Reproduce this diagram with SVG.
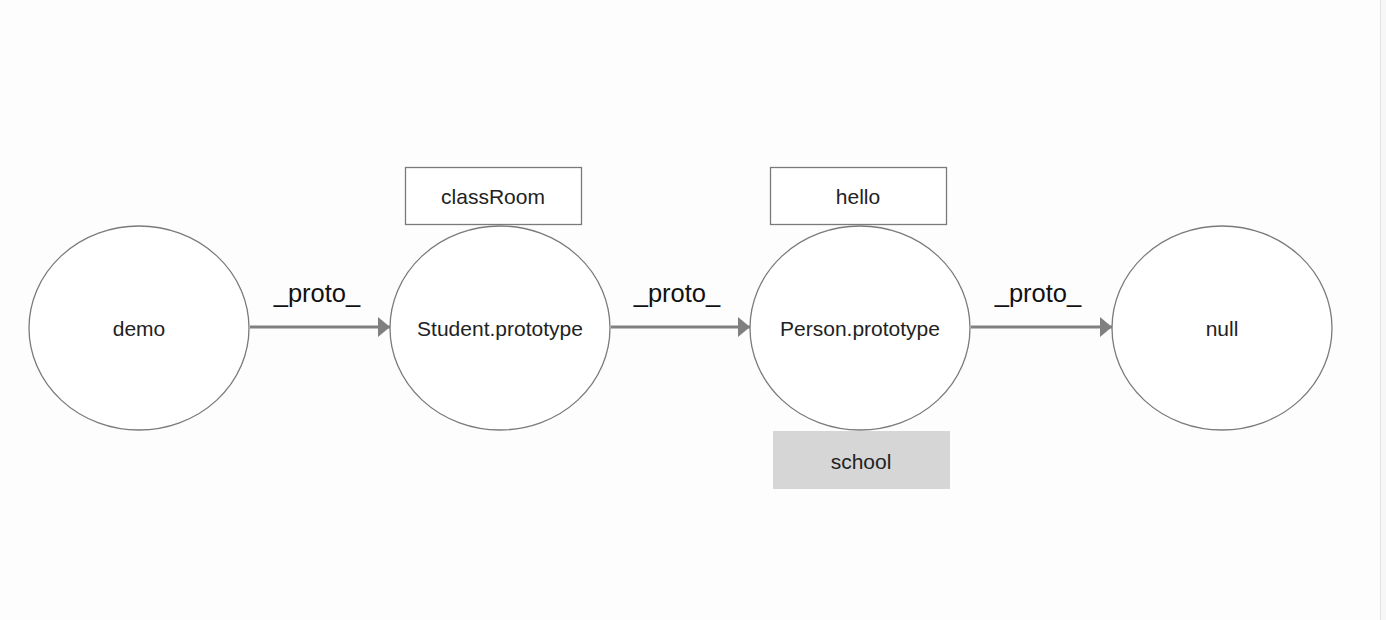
<svg xmlns="http://www.w3.org/2000/svg" width="1386" height="620" viewBox="0 0 1386 620">
<style>
.node{fill:#fff;stroke:#7a7a7a;stroke-width:1.3}
.box{fill:#fff;stroke:#7a7a7a;stroke-width:1.3}
.t{font-family:"Liberation Sans",Arial,sans-serif;font-size:21px;fill:#222;text-anchor:middle;dominant-baseline:central}
.lbl{font-family:"Liberation Sans",Arial,sans-serif;font-size:25.5px;fill:#111;text-anchor:middle}
.edge{stroke:#808080;stroke-width:3;fill:none}
</style>
<defs>
<marker id="ah" markerWidth="12" markerHeight="20" refX="12" refY="10" orient="auto" markerUnits="userSpaceOnUse">
<path d="M0,0 L12,10 L0,20 Z" fill="#808080"/>
</marker>
</defs>
<rect x="0" y="0" width="1386" height="620" fill="#fdfdfd"/>
<rect x="1380" y="0" width="6" height="620" fill="#f7f7f7"/>
<line x1="1380.5" y1="0" x2="1380.5" y2="620" stroke="#e2e2e2" stroke-width="1"/>
<g id="connectors">
<line class="edge" x1="250" y1="327" x2="390" y2="327" marker-end="url(#ah)"/>
<line class="edge" x1="611" y1="327" x2="750" y2="327" marker-end="url(#ah)"/>
<line class="edge" x1="971" y1="327" x2="1112" y2="327" marker-end="url(#ah)"/>
<text class="lbl" x="317" y="302">_proto_</text>
<text class="lbl" x="677" y="302">_proto_</text>
<text class="lbl" x="1038" y="302">_proto_</text>
</g>
<g id="demo">
<ellipse class="node" cx="139" cy="328" rx="110" ry="102"/>
<text class="t" x="139" y="328">demo</text>
</g>
<g id="student">
<ellipse class="node" cx="500" cy="328" rx="110" ry="102"/>
<text class="t" x="500" y="328">Student.prototype</text>
</g>
<g id="person">
<ellipse class="node" cx="860" cy="328" rx="110" ry="102"/>
<text class="t" x="860" y="328">Person.prototype</text>
</g>
<g id="null">
<ellipse class="node" cx="1222" cy="328" rx="110" ry="102"/>
<text class="t" x="1222" y="328">null</text>
</g>
<g id="classRoom">
<rect class="box" x="405.5" y="167.5" width="176" height="57"/>
<text class="t" x="493" y="196">classRoom</text>
</g>
<g id="hello">
<rect class="box" x="770.5" y="167.5" width="176" height="57"/>
<text class="t" x="858" y="196">hello</text>
</g>
<g id="school">
<rect x="773" y="431" width="177" height="58" fill="#d6d6d6"/>
<text class="t" x="861" y="461">school</text>
</g>
</svg>
